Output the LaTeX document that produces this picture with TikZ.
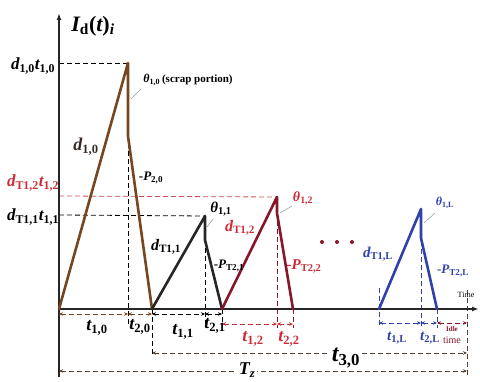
\documentclass[tikz,border=0pt]{standalone}
\usepackage{fontspec}
\setmainfont{Liberation Serif}
\usetikzlibrary{arrows.meta}
\definecolor{brn}{RGB}{118,70,32}
\definecolor{mar}{RGB}{135,22,42}
\definecolor{rlab}{RGB}{205,45,55}
\definecolor{blu}{RGB}{48,66,170}
\definecolor{dimc}{RGB}{85,65,50}
\definecolor{dlab}{RGB}{55,40,35}
\definecolor{ptr}{RGB}{150,160,175}
\newcommand{\vl}[2]{{\bfseries\itshape #1}\textsubscript{\bfseries\upshape #2}}
\newcommand{\fs}[1]{\fontsize{#1}{#1}\selectfont}
\begin{document}
\begin{tikzpicture}[x=1pt,y=-1pt,
  axis/.style={line width=1.4pt, draw=black!85, -{Latex[length=7pt,width=5pt]}},
  tri/.style={line width=2.6pt, line join=round, line cap=round},
  guide/.style={dash pattern=on 5pt off 3pt, line width=0.8pt},
  dimarr/.style={dash pattern=on 5pt off 3pt, line width=0.8pt, {Stealth[length=4pt,width=3.5pt]}-{Stealth[length=4pt,width=3.5pt]}},
  ptrline/.style={draw=ptr, line width=0.6pt},
  lab/.style={inner sep=0.5pt, anchor=center},
  dot/.style={circle, fill=mar, inner sep=0pt, minimum size=4pt}]
\useasboundingbox (0,0) rectangle (480,382);
% axes
\coordinate (O) at (59,309);
\coordinate (Ytop) at (59,13);
\coordinate (Ybot) at (59,377);
\coordinate (Xend) at (479,309);
% triangle vertices
\coordinate (a0) at (59,309);
\coordinate (p0) at (128,63);
\coordinate (v0) at (128,136);
\coordinate (e0) at (152,309);
\coordinate (p1) at (205,216);
\coordinate (v1) at (205,240);
\coordinate (e1) at (222,309);
\coordinate (p2) at (277,197);
\coordinate (v2) at (277,213);
\coordinate (e2) at (293,309);
\coordinate (a3) at (379,309);
\coordinate (p3) at (421,209);
\coordinate (v3) at (421,238);
\coordinate (e3) at (437,309);
% horizontal guides
\coordinate (h0) at (59,63);
\coordinate (h1) at (59,215);
\coordinate (h2) at (59,196);
\draw[guide, black] (h0) -- (p0);
\draw[guide, black] (h1) -- (p1);
\draw[guide, rlab!85] (h2) -- (p2);
% vertical guides
\coordinate (g0) at (128,324);
\coordinate (g0b) at (152,356);
\coordinate (g1) at (205,324);
\coordinate (g1b) at (222,326);
\coordinate (g2) at (277,328);
\coordinate (g2b) at (293,328);
\coordinate (g3t) at (379,288);
\coordinate (g3) at (379,328);
\coordinate (g3p) at (421,328);
\coordinate (g3e) at (437,328);
\coordinate (gIt) at (467,290);
\coordinate (gIb) at (467,377);
\draw[guide, black] (p0) -- (g0);
\draw[guide, black] (e0) -- (g0b);
\draw[guide, black] (p1) -- (g1);
\draw[guide, black] (e1) -- (g1b);
\draw[guide, mar] (p2) -- (g2);
\draw[guide, mar] (e2) -- (g2b);
\draw[guide, blu] (g3t) -- (g3);
\draw[guide, blu] (p3) -- (g3p);
\draw[guide, blu] (e3) -- (g3e);
\draw[guide, dimc] (gIt) -- (gIb);
% axes
\draw[axis] (Ybot) -- (Ytop);
\draw[axis] (O) -- (Xend);
% triangles
\draw[tri, brn] (a0) -- (p0) -- (v0) -- (e0);
\draw[tri, black!85] (e0) -- (p1) -- (v1) -- (e1);
\draw[tri, mar] (e1) -- (p2) -- (v2) -- (e2);
\draw[tri, blu] (a3) -- (p3) -- (v3) -- (e3);
% dimension rows
\coordinate (rA0) at (59,314);
\coordinate (rA1) at (128,314);
\coordinate (rA2) at (152,314);
\coordinate (rA3) at (205,314);
\coordinate (rA4) at (222,314);
\draw[dimarr, brn] (rA0) -- (rA1);
\draw[dimarr, brn] (rA1) -- (rA2);
\draw[dimarr, black] (rA2) -- (rA3);
\draw[dimarr, black] (rA3) -- (rA4);
\coordinate (rB0) at (222,324);
\coordinate (rB1) at (277,324);
\coordinate (rB2) at (293,324);
\coordinate (rB3) at (379,323);
\coordinate (rB4) at (421,323);
\coordinate (rB5) at (437,323);
\coordinate (rB6) at (467,323);
\draw[dimarr, rlab] (rB0) -- (rB1);
\draw[dimarr, rlab] (rB1) -- (rB2);
\draw[dimarr, blu] (rB3) -- (rB4);
\draw[dimarr, blu] (rB4) -- (rB5);
\draw[dimarr, mar] (rB5) -- (rB6);
\coordinate (rC0) at (152,353);
\coordinate (rC1) at (467,353);
\coordinate (rD0) at (59,371);
\coordinate (rD1) at (467,371);
\draw[dimarr, dimc] (rC0) -- (rC1);
\draw[dimarr, dimc] (rD0) -- (rD1);
% pointers
\coordinate (q0a) at (141,89);
\coordinate (q0b) at (131,99);
\coordinate (q1a) at (213,219);
\coordinate (q1b) at (207,227);
\coordinate (q2a) at (292,206);
\coordinate (q2b) at (280,213);
\coordinate (q3a) at (435,213);
\coordinate (q3b) at (424,223);
\draw[ptrline] (q0a) -- (q0b);
\draw[ptrline] (q1a) -- (q1b);
\draw[ptrline] (q2a) -- (q2b);
\draw[ptrline] (q3a) -- (q3b);
% dots
\node[dot] (dt1) at (322,242) {};
\node[dot] (dt2) at (337,242) {};
\node[dot] (dt3) at (352,242) {};
% labels
\node[lab] (Ylab) at (93,26) {\fs{22}{\bfseries\itshape I}\textsubscript{\bfseries\upshape d}{\bfseries(\itshape t\upshape)}\textsubscript{\bfseries\itshape i}};
\node[lab] (L10) at (33,66) {\fs{17}\vl{d}{1,0}\vl{t}{1,0}};
\node[lab, text=rlab] (L12) at (33,183) {\fs{17}\vl{d}{T1,2}\vl{t}{1,2}};
\node[lab] (L11) at (33,217) {\fs{17}\vl{d}{T1,1}\vl{t}{1,1}};
\node[lab] (th0) at (188,80) {\fs{12}\vl{θ}{1,0}\,\fs{11}\bfseries(scrap portion)};
\node[lab, text=dlab] (d10) at (86,147) {\fs{18}\vl{d}{1,0}};
\node[lab] (P20) at (151,178) {\fs{13}\bfseries-\vl{P}{2,0}};
\node[lab] (th1) at (221,209) {\fs{15}\vl{θ}{1,1}};
\node[lab] (dT11) at (166,247) {\fs{16}\vl{d}{T1,1}};
\node[lab] (PT21) at (229,266) {\fs{13}\bfseries-\vl{P}{T2,1}};
\node[lab, text=rlab] (th2) at (303,198) {\fs{14}\vl{θ}{1,2}};
\node[lab, text=rlab] (dT12) at (240,228) {\fs{16}\vl{d}{T1,2}};
\node[lab, text=rlab] (PT22) at (304,266) {\fs{15}\bfseries-\vl{P}{T2,2}};
\node[lab, text=blu] (thL) at (445,203) {\fs{12}\vl{θ}{1,L}};
\node[lab, text=blu] (dT1L) at (378,254) {\fs{15}\vl{d}{T1,L}};
\node[lab, text=blu] (PT2L) at (453,271) {\fs{13}\bfseries-\vl{P}{T2,L}};
\node[lab] (time) at (466,295) {\fs{8}Time};
\node[lab] (t10) at (97,328) {\fs{18}\vl{t}{1,0}};
\node[lab] (t20) at (140,327) {\fs{18}\vl{t}{2,0}};
\node[lab] (t11) at (183,332) {\fs{18}\vl{t}{1,1}};
\node[lab] (t21) at (215,326) {\fs{18}\vl{t}{2,1}};
\node[lab, text=rlab] (t12) at (253,339) {\fs{18}\vl{t}{1,2}};
\node[lab, text=rlab] (t22) at (289,339) {\fs{18}\vl{t}{2,2}};
\node[lab, text=blu] (t1L) at (397,338) {\fs{15}\vl{t}{1,L}};
\node[lab, text=blu] (t2L) at (430,338) {\fs{15}\vl{t}{2,L}};
\node[lab, text=mar, align=center] (idle) at (452,335) {\fs{7}\bfseries Idle\\time};
\node[lab, fill=white, inner sep=2pt] (t30) at (346,358) {\fs{24}\vl{t}{3,0}};
\node[lab, fill=white, inner sep=2pt] (TZ) at (247,370) {\fs{18}{\bfseries\itshape T}\textsubscript{\bfseries\itshape z}};
\end{tikzpicture}
\end{document}
